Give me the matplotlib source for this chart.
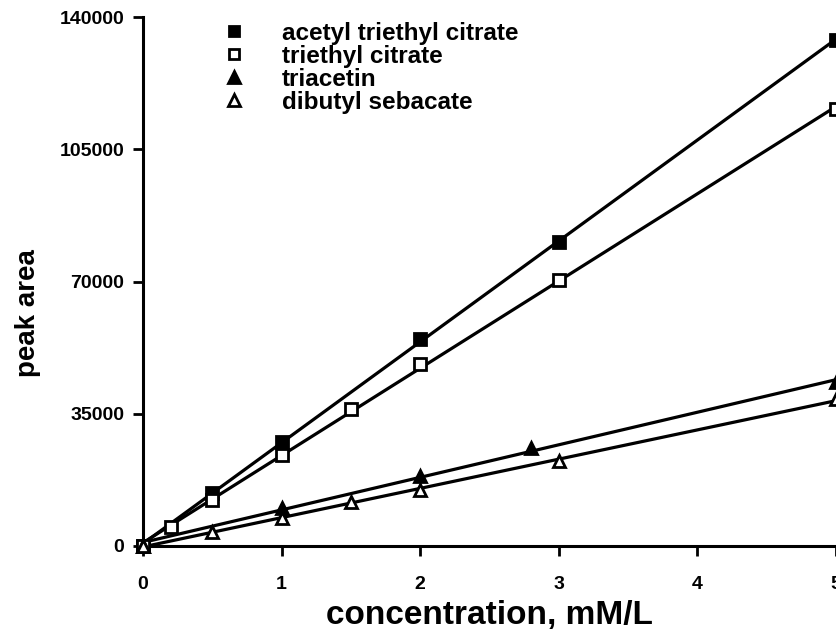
import matplotlib as mpl
import matplotlib.pyplot as plt
from matplotlib.lines import Line2D
import numpy as np

mpl.rcParams["font.family"] = ["Liberation Sans", "DejaVu Sans"]
mpl.rcParams["font.weight"] = "bold"

# acetyl triethyl citrate (filled squares)
atc_x = [0, 0.5, 1, 2, 3, 5]
atc_y = [0, 14100, 27400, 54900, 80500, 134000]

# triethyl citrate (open squares)
tec_x = [0, 0.2, 0.5, 1, 1.5, 2, 3, 5]
tec_y = [0, 5100, 12100, 24200, 36200, 48200, 70300, 115600]

# triacetin (filled triangles)
tri_x = [0, 1, 2, 2.8, 5]
tri_y = [0, 10100, 18400, 25800, 43400]

# dibutyl sebacate (open triangles)
dbs_x = [0, 0.5, 1, 1.5, 2, 3, 5]
dbs_y = [0, 3700, 7500, 11500, 14900, 22400, 38900]

labels = ["acetyl triethyl citrate", "triethyl citrate", "triacetin",
          "dibutyl sebacate"]
xticks = [0, 1, 2, 3, 4, 5]
yticks = [0, 35000, 70000, 105000, 140000]

series = [(atc_x, atc_y, "s", "black"),
          (tec_x, tec_y, "s", "white"),
          (tri_x, tri_y, "^", "black"),
          (dbs_x, dbs_y, "^", "white")]

fig = plt.figure(figsize=(8.36, 6.4), dpi=100)
ax = fig.add_axes([0.171, 0.147, 0.829, 0.826])

handles = []
for (xs, ys, marker, face), label in zip(series, labels):
    xs = np.array(xs)
    ys = np.array(ys)
    # least-squares line through the points
    slope, icpt = np.polyfit(xs, ys, 1)
    fx = np.array([0, 5])
    ax.plot(fx, slope * fx + icpt, color="black", lw=2.3, zorder=2,
            clip_on=False)
    ms = 8 if marker == "s" else 9
    ax.plot(xs, ys, linestyle="none", marker=marker, ms=ms,
            mfc=face, mec="black", mew=2, zorder=3, clip_on=False)
    handles.append(Line2D([], [], linestyle="none", marker=marker,
                          ms=ms - 1, mfc=face, mec="black", mew=2))

ax.set_xlim(0, 5)
ax.set_ylim(0, 140000)
ax.set_xticks(xticks)
ax.set_yticks(yticks)
ax.set_yticklabels([str(v) for v in yticks])

for side in ["top", "right"]:
    ax.spines[side].set_visible(False)
for side in ["left", "bottom"]:
    ax.spines[side].set_linewidth(2.2)

ax.tick_params(direction="out", length=7.5, width=2, labelsize=14, pad=14)
ax.tick_params(axis="y", pad=6)

ax.set_xlabel("concentration, mM/L", fontsize=24, fontweight="bold",
              labelpad=5)
ax.set_ylabel("peak area", fontsize=20, fontweight="bold")
ax.yaxis.set_label_coords(-0.147, 0.44)

ax.legend(handles, labels, loc="upper left", bbox_to_anchor=(0.1, 1.01),
          frameon=False, prop={"size": 17.5, "weight": "bold"},
          handlelength=1.0, handletextpad=1.45, labelspacing=0.0,
          borderaxespad=0)

fig.savefig("out.png", dpi=100)
